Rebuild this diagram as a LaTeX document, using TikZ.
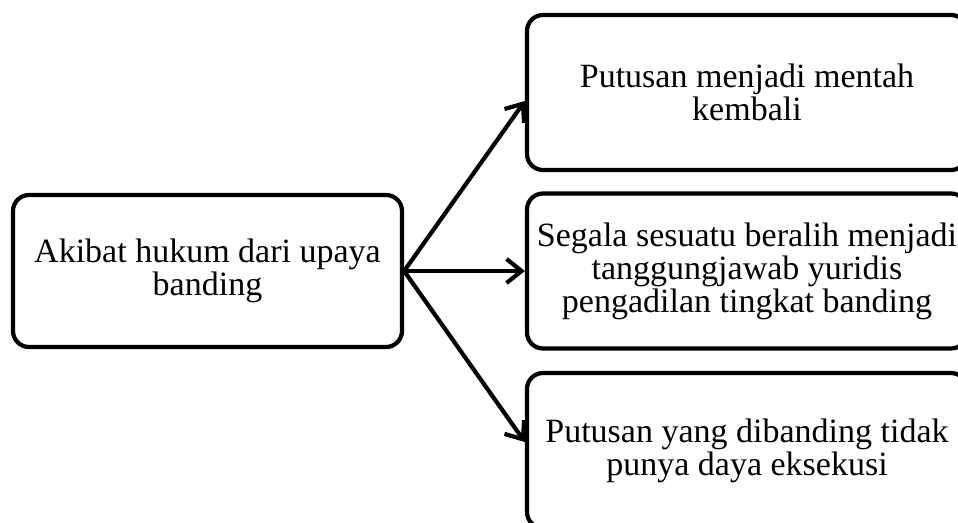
\documentclass[tikz,border=0pt]{standalone}
\usepackage{fontspec}
\setmainfont{Liberation Serif}
\usetikzlibrary{arrows.meta,calc}

\begin{document}
\begin{tikzpicture}[x=1pt,y=-1pt,
    kotak/.style={draw,line width=4.2pt,rounded corners=16pt,align=center,
      font=\fontsize{34}{33}\selectfont,inner sep=0pt},
    kanan/.style={kotak,minimum width=440pt,minimum height=155pt},
    panah/.style={-{Straight Barb[length=15pt,width=24pt]},line width=4.2pt}]
    \newcommand{\kananx}{747}
    \newcommand{\geser}{8.5} % jarak ujung panah dari tengah sisi kiri

    \path[use as bounding box,clip] (0,0) rectangle (958,522);

    % kotak kiri
    \node[kotak,minimum width=389pt,minimum height=152pt] (akibat) at (207.5,271)
      {Akibat hukum dari upaya\\banding};

    % kotak kanan
    \node[kanan] (mentah) at (\kananx,92.5) {Putusan menjadi mentah\\kembali};
    \node[kanan] (yuridis) at (\kananx,271) {Segala sesuatu beralih menjadi\\tanggungjawab yuridis\\pengadilan tingkat banding};
    \node[kanan] (eksekusi) at (\kananx,450.5) {Putusan yang dibanding tidak\\punya daya eksekusi};

    % panah
    \coordinate (ujungatas) at ($(mentah.west)+(0,\geser)$);
    \coordinate (ujungbawah) at ($(eksekusi.west)+(0,-\geser)$);
    \foreach \t in {ujungatas,yuridis.west,ujungbawah}
      \draw[panah] (akibat.east) -- (\t);
\end{tikzpicture}
\end{document}
